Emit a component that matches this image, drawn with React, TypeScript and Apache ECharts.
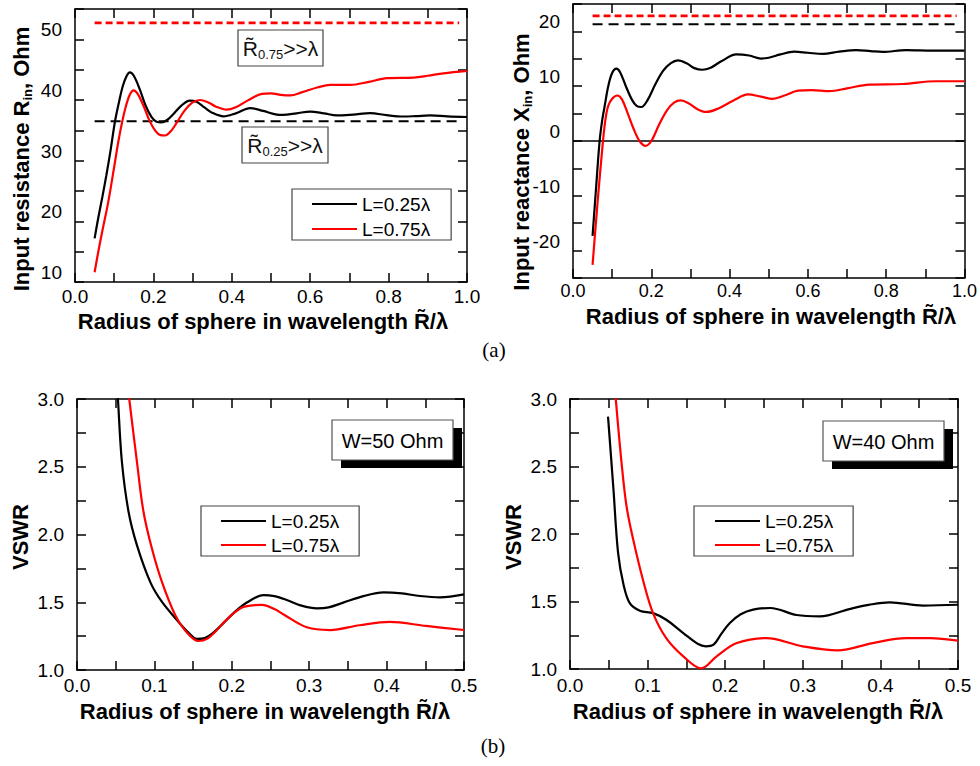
import React, { useEffect, useRef } from 'react';
import * as echarts from 'echarts';

const FONT = '"Liberation Sans", Arial, sans-serif';
const SERIF = '"Liberation Serif", "Times New Roman", serif';

const NAME_025 = 'L=0.25λ';
const NAME_075 = 'L=0.75λ';

// (a) left: input resistance R_in, Ohm  — [R/λ, value]
const rin025: [number, number][] = [
  [0.05, 17.2], [0.06, 20.8], [0.07, 24.1], [0.08, 27.6], [0.09, 31.4], [0.102, 36.45], [0.112, 39.6],
  [0.122, 42.3], [0.132, 44.0], [0.14, 44.55], [0.15, 44.0], [0.165, 41.8], [0.18, 39.1], [0.195, 37.2],
  [0.208, 36.4], [0.22, 36.3], [0.235, 36.7], [0.25, 37.6], [0.27, 39.0], [0.293, 39.9], [0.31, 39.7],
  [0.33, 38.8], [0.35, 37.9], [0.379, 37.3], [0.41, 37.8], [0.447, 38.66], [0.48, 38.2], [0.515, 37.6],
  [0.53, 37.56], [0.565, 37.8], [0.6, 38.1], [0.635, 37.8], [0.668, 37.45], [0.71, 37.6], [0.753, 37.84],
  [0.795, 37.5], [0.838, 37.28], [0.87, 37.35], [0.906, 37.45], [0.95, 37.3], [1.0, 37.2],
];
const rin075: [number, number][] = [
  [0.05, 11.6], [0.06, 15.2], [0.07, 18.5], [0.085, 23.25], [0.1, 29.0], [0.1106, 33.15], [0.12, 36.3],
  [0.13, 39.0], [0.14, 40.9], [0.149, 41.6], [0.16, 41.0], [0.175, 39.0], [0.19, 36.6], [0.205, 34.9],
  [0.218, 34.2], [0.23, 34.15], [0.245, 34.9], [0.26, 36.3], [0.28, 38.3], [0.3, 39.6], [0.319, 40.0],
  [0.34, 39.6], [0.36, 38.9], [0.387, 38.4], [0.41, 38.8], [0.44, 39.9], [0.4766, 41.0], [0.5, 41.1],
  [0.525, 40.85], [0.549, 40.75], [0.58, 41.3], [0.62, 42.1], [0.651, 42.5], [0.702, 42.5], [0.75, 43.0],
  [0.796, 43.6], [0.864, 43.7], [0.9, 44.0], [0.94, 44.4], [1.0, 44.8],
];

// (a) right: input reactance X_in, Ohm
const xin025: [number, number][] = [
  [0.05, -17.3], [0.059, -8.5], [0.068, 0], [0.075, 4.0], [0.081, 6.4], [0.09, 10.0], [0.1, 12.4],
  [0.1107, 13.2], [0.12, 12.6], [0.135, 10.0], [0.15, 7.6], [0.1625, 6.4], [0.1745, 6.2], [0.19, 7.4],
  [0.21, 10.3], [0.23, 12.8], [0.25, 14.2], [0.268, 14.7], [0.29, 14.2], [0.31, 13.3], [0.33, 13.0],
  [0.35, 13.3], [0.38, 14.6], [0.417, 15.8], [0.45, 15.6], [0.48, 15.05], [0.5, 15.2], [0.53, 15.8],
  [0.565, 16.3], [0.6, 16.1], [0.638, 15.9], [0.68, 16.3], [0.7235, 16.6], [0.76, 16.4], [0.791, 16.25],
  [0.851, 16.6], [0.919, 16.5], [1.0, 16.5],
];
const xin075: [number, number][] = [
  [0.05, -22.6], [0.063, -11], [0.0766, 0], [0.083, 4.0], [0.09, 6.4], [0.1, 7.7], [0.113, 8.3],
  [0.125, 7.6], [0.14, 5.0], [0.155, 2.2], [0.17, 0.0], [0.185, -0.9], [0.2, 0.0], [0.22, 3.0],
  [0.24, 5.6], [0.258, 7.0], [0.275, 7.4], [0.295, 6.9], [0.318, 5.8], [0.34, 5.3], [0.37, 5.9],
  [0.41, 7.4], [0.447, 8.5], [0.48, 8.1], [0.51, 7.7], [0.54, 8.3], [0.575, 9.2], [0.61, 9.3],
  [0.655, 9.1], [0.7, 9.6], [0.757, 10.3], [0.842, 10.4], [0.927, 10.9], [1.0, 10.9],
];

// (b) left: VSWR, W = 50 Ohm
const vswr50_025: [number, number][] = [
  [0.05, 3.27], [0.0529, 3.0], [0.058, 2.537], [0.0666, 2.168], [0.0774, 1.922], [0.095, 1.645],
  [0.1096, 1.504], [0.131, 1.356], [0.145, 1.27], [0.1548, 1.229], [0.165, 1.235], [0.175, 1.27],
  [0.191, 1.356], [0.205, 1.435], [0.22, 1.5], [0.241, 1.553], [0.255, 1.545], [0.271, 1.517],
  [0.29, 1.475], [0.31, 1.455], [0.325, 1.462], [0.344, 1.497], [0.37, 1.545], [0.396, 1.573],
  [0.42, 1.565], [0.443, 1.546], [0.469, 1.536], [0.5, 1.558],
];
const vswr50_075: [number, number][] = [
  [0.06, 3.35], [0.0675, 3.0], [0.0774, 2.537], [0.0859, 2.168], [0.0967, 1.898], [0.1096, 1.652],
  [0.1268, 1.406], [0.14, 1.29], [0.157, 1.214], [0.168, 1.23], [0.18, 1.29], [0.193, 1.37],
  [0.215, 1.465], [0.239, 1.48], [0.255, 1.45], [0.267, 1.41], [0.297, 1.315], [0.327, 1.295],
  [0.365, 1.33], [0.404, 1.355], [0.451, 1.325], [0.5, 1.295],
];

// (b) right: VSWR, W = 40 Ohm
const vswr40_025: [number, number][] = [
  [0.049, 2.87], [0.056, 2.33], [0.062, 1.858], [0.069, 1.624], [0.077, 1.488], [0.09, 1.432],
  [0.107, 1.414], [0.124, 1.365], [0.146, 1.266], [0.165, 1.185], [0.175, 1.168], [0.185, 1.18],
  [0.195, 1.26], [0.206, 1.34], [0.22, 1.405], [0.236, 1.44], [0.258, 1.452], [0.292, 1.4],
  [0.322, 1.39], [0.36, 1.444], [0.385, 1.475], [0.412, 1.494], [0.455, 1.47], [0.5, 1.476],
];
const vswr40_075: [number, number][] = [
  [0.055, 3.3], [0.059, 3.0], [0.0665, 2.524], [0.073, 2.2], [0.0815, 1.957], [0.094, 1.661],
  [0.107, 1.414], [0.124, 1.229], [0.146, 1.094], [0.169, 1.005], [0.189, 1.094], [0.215, 1.192],
  [0.253, 1.229], [0.3, 1.168], [0.345, 1.138], [0.39, 1.192], [0.433, 1.229], [0.464, 1.229], [0.5, 1.21],
];

// asymptotic levels for R >> λ
const rInf025 = 36.5;
const rInf075 = 52.7;
const xInf025 = 21.3;
const xInf075 = 22.85;
const levelRange: [number, number] = [0.05, 0.98];

// axis ranges [min, max, interval]
const xRanges: [number, number, number][] = [[0, 1, 0.1], [0, 1, 0.1], [0, 0.5, 0.05], [0, 0.5, 0.05]];
const yRanges: [number, number, number][] = [[10, 55, 5], [-25, 25, 5], [1, 3, 0.25], [1, 3, 0.25]];

const grids = [
  { left: 75, top: 9, width: 392, height: 273 },
  { left: 573, top: 4, width: 392, height: 274 },
  { left: 77, top: 399, width: 387, height: 271 },
  { left: 570, top: 399, width: 388, height: 270 },
];

const fmtX1 = (v: number) => (Math.round(v * 10) % 2 === 0 ? v.toFixed(1) : '');
const fmtX2 = (v: number) => (Math.round(v * 20) % 2 === 0 ? v.toFixed(1) : '');
const fmtY1 = (v: number) => (Math.round(v) % 10 === 0 ? String(Math.round(v)) : '');
const fmtY2 = (v: number) => (Math.round(v * 4) % 2 === 0 ? v.toFixed(1) : '');
const xFmts = [fmtX1, fmtX1, fmtX2, fmtX2];
const yFmts = [fmtY1, fmtY1, fmtY2, fmtY2];
const xMargins = [5, 4, 6, 7];
const xLabelSizes = [19, 18, 19, 19];

const lineAx = { show: true, onZero: false, lineStyle: { color: '#000', width: 1.5 } };
const tickAx = { show: true, inside: true, length: 9, lineStyle: { color: '#000', width: 1.5 } };

function buildOption() {
  const xAxis: any[] = [];
  const yAxis: any[] = [];
  for (let i = 0; i < 4; i++) {
    const [xmin, xmax, xint] = xRanges[i];
    const [ymin, ymax, yint] = yRanges[i];
    xAxis.push({
      type: 'value', gridIndex: i, min: xmin, max: xmax, interval: xint, position: 'bottom',
      axisLine: lineAx, axisTick: tickAx, splitLine: { show: false },
      axisLabel: {
        show: true, formatter: xFmts[i], margin: xMargins[i], color: '#000', fontSize: xLabelSizes[i],
        fontFamily: FONT, showMinLabel: true, showMaxLabel: true,
      },
    });
    xAxis.push({
      type: 'value', gridIndex: i, min: xmin, max: xmax, interval: xint, position: 'top',
      axisLine: lineAx, axisTick: tickAx, splitLine: { show: false }, axisLabel: { show: false },
    });
    yAxis.push({
      type: 'value', gridIndex: i, min: ymin, max: ymax, interval: yint, position: 'left',
      axisLine: lineAx, axisTick: tickAx, splitLine: { show: false },
      axisLabel: {
        show: true, formatter: yFmts[i], margin: 13, color: '#000', fontSize: 19, fontFamily: FONT,
        showMinLabel: true, showMaxLabel: true, verticalAlign: i < 2 ? 'bottom' : 'middle',
      },
    });
    yAxis.push({
      type: 'value', gridIndex: i, min: ymin, max: ymax, interval: yint, position: 'right',
      axisLine: lineAx, axisTick: tickAx, splitLine: { show: false }, axisLabel: { show: false },
    });
  }

  const curve = (name: string, data: [number, number][], color: string, i: number) => ({
    type: 'line', name, data, xAxisIndex: 2 * i, yAxisIndex: 2 * i, symbol: 'none', smooth: 0.35,
    color, lineStyle: { color, width: 2.2 }, itemStyle: { color }, z: 3, silent: true, clip: true,
  });
  const level = (value: number, color: string, i: number, dash: number[] | string, width: number, range = levelRange) => ({
    type: 'line', data: [[range[0], value], [range[1], value]], xAxisIndex: 2 * i, yAxisIndex: 2 * i,
    symbol: 'none', lineStyle: { color, width, type: dash }, silent: true, z: 2,
  });

  const series: any[] = [
    level(rInf075, '#ff0000', 0, [7, 4], 2.8),
    level(rInf025, '#000', 0, [10, 6], 2),
    curve(NAME_025, rin025, '#000', 0),
    curve(NAME_075, rin075, '#ff0000', 0),
    level(xInf075, '#ff0000', 1, [7, 4], 2.8),
    level(xInf025, '#000', 1, [10, 6], 2),
    level(0, '#000', 1, 'solid', 1.3, [0, 1]),
    curve(NAME_025, xin025, '#000', 1),
    curve(NAME_075, xin075, '#ff0000', 1),
    curve(NAME_025, vswr50_025, '#000', 2),
    curve(NAME_075, vswr50_075, '#ff0000', 2),
    curve(NAME_025, vswr40_025, '#000', 3),
    curve(NAME_075, vswr40_075, '#ff0000', 3),
  ];

  const legendBase = {
    data: [NAME_025, NAME_075], orient: 'vertical', icon: 'rect', itemWidth: 45, itemHeight: 2,
    selectedMode: false, borderColor: '#444', borderWidth: 1.2, backgroundColor: '#fff',
    textStyle: { fontFamily: FONT, fontSize: 19, color: '#000', lineHeight: 20 },
  };
  const legend = [
    { ...legendBase, left: 292, top: 189, itemGap: 5, padding: [5, 21, 1, 20] },
    { ...legendBase, left: 201, top: 506, itemGap: 4, padding: [5, 20, 1, 20] },
    { ...legendBase, left: 694, top: 506, itemGap: 4, padding: [5, 20, 1, 21] },
  ];

  const titleRich = (size: number) => ({
    m: { fontSize: size, fontWeight: 'bold', fontFamily: FONT, lineHeight: 26, fill: '#000' },
    s: { fontSize: 13, fontWeight: 'bold', fontFamily: FONT, lineHeight: 13, verticalAlign: 'bottom', fill: '#000' },
  });
  const yTitle = (x: number, y: number, text: string) => ({
    type: 'text', x, y, rotation: Math.PI / 2, z: 20,
    style: { text, rich: titleRich(22), textAlign: 'center', textVerticalAlign: 'middle' },
  });
  const xTitleText = 'Radius of sphere in wavelength R\u0303/λ';
  const xTitle = (x: number, y: number) => ({
    type: 'text', x, y, z: 20,
    style: {
      text: xTitleText, fontSize: 22, fontWeight: 'bold', fontFamily: FONT, fill: '#000',
      textAlign: 'center', textVerticalAlign: 'middle',
    },
  });
  const annoRich = {
    m: { fontSize: 21, fontFamily: FONT, lineHeight: 26, fill: '#111' },
    s: { fontSize: 13, fontFamily: FONT, lineHeight: 13, verticalAlign: 'bottom', fill: '#111' },
  };
  const annoBox = (x: number, y: number, w: number, h: number, sub: string) => [
    { type: 'rect', z: 20, shape: { x, y, width: w, height: h }, style: { fill: '#fff', stroke: '#444', lineWidth: 1.2 } },
    {
      type: 'text', z: 21, x: x + w / 2, y: y + h / 2,
      style: { text: `{m|R\u0303}{s|${sub}}{m|>>λ}`, rich: annoRich, textAlign: 'center', textVerticalAlign: 'middle' },
    },
  ];
  const wBox = (x: number, y: number, text: string) => [
    { type: 'rect', z: 20, shape: { x: x + 9, y: y + 8, width: 121, height: 40 }, style: { fill: '#000' } },
    { type: 'rect', z: 21, shape: { x, y, width: 121, height: 40 }, style: { fill: '#fff', stroke: '#555', lineWidth: 1.2 } },
    {
      type: 'text', z: 22, x: x + 60.5, y: y + 20.5,
      style: { text, fontSize: 20, fontFamily: FONT, fill: '#000', textAlign: 'center', textVerticalAlign: 'middle' },
    },
  ];
  const caption = (x: number, y: number, text: string) => ({
    type: 'text', x, y, z: 20,
    style: { text, fontSize: 21, fontFamily: SERIF, fill: '#000', textAlign: 'center', textVerticalAlign: 'middle' },
  });

  const graphic = [
    yTitle(21, 159, '{m|Input resistance R}{s|in}{m|, Ohm}'),
    yTitle(521, 162, '{m|Input reactance X}{s|in}{m|, Ohm}'),
    yTitle(20, 537, '{m|VSWR}'),
    yTitle(513, 537, '{m|VSWR}'),
    xTitle(263, 321),
    xTitle(771, 316),
    xTitle(265, 711),
    xTitle(758, 711),
    ...annoBox(238, 30, 85, 36, '0.75'),
    ...annoBox(242, 127, 86, 36, '0.25'),
    ...wBox(332, 420, 'W=50 Ohm'),
    ...wBox(823, 421, 'W=40 Ohm'),
    caption(494, 350, '(a)'),
    caption(493, 746, '(b)'),
  ];

  return {
    animation: false,
    backgroundColor: '#fff',
    grid: grids.map((g) => ({ ...g, containLabel: false })),
    xAxis,
    yAxis,
    legend,
    series,
    graphic: { elements: graphic },
  };
}

export default function App() {
  const ref = useRef<HTMLDivElement>(null);
  useEffect(() => {
    if (!ref.current) return;
    const chart = echarts.init(ref.current, undefined, { renderer: 'svg' });
    chart.setOption(buildOption() as any);
    return () => chart.dispose();
  }, []);
  return (
    <div
      ref={ref}
      style={{ position: 'absolute', left: 0, top: 0, width: 980, height: 766, background: '#fff' }}
    />
  );
}
